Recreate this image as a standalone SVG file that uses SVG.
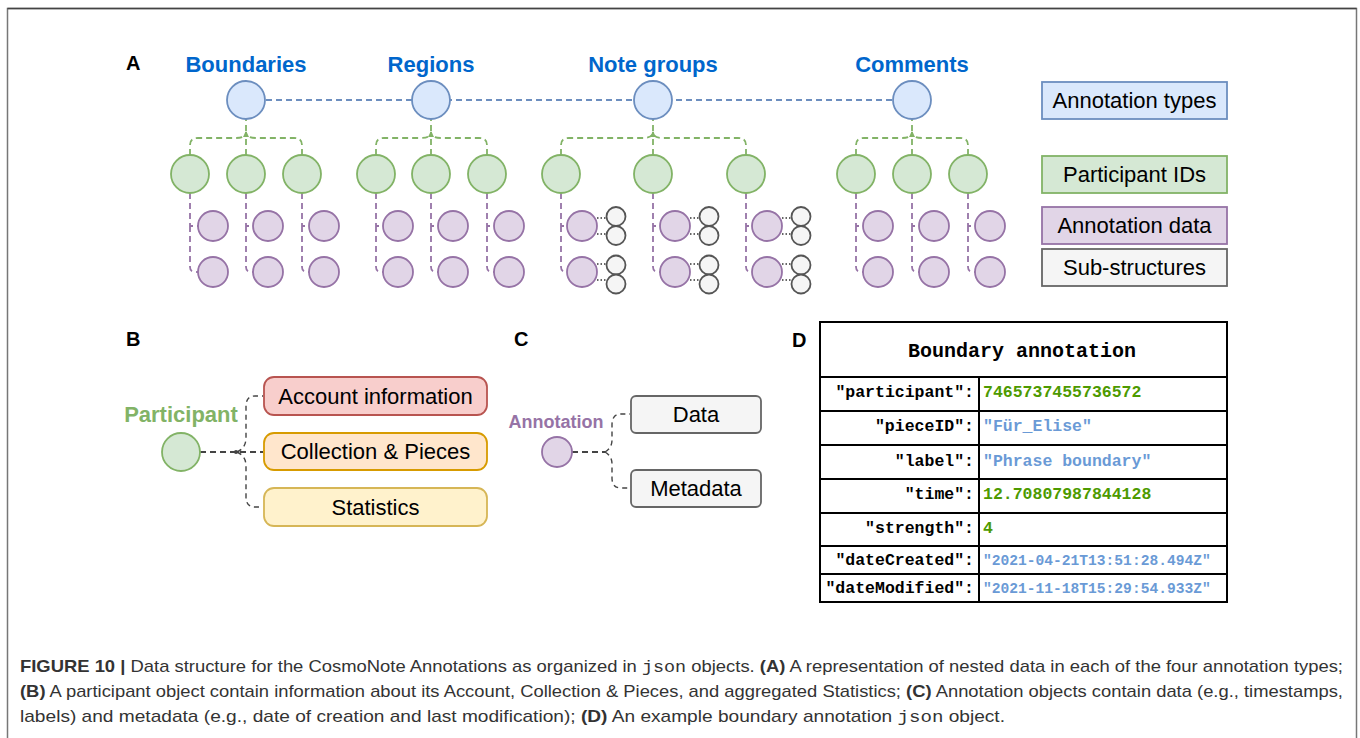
<svg xmlns="http://www.w3.org/2000/svg" width="1360" height="738" viewBox="0 0 1360 738">
<defs>
<style>
.sans{font-family:"Liberation Sans",Arial,sans-serif}
.mono{font-family:"Liberation Mono","Courier New",monospace}
.type{fill:#dae8fc;stroke:#6c8ebf;stroke-width:1.8}
.pid{fill:#d5e8d4;stroke:#82b366;stroke-width:1.8}
.ann{fill:#e1d5e7;stroke:#9673a6;stroke-width:1.8}
.sub{fill:#f5f5f5;stroke:#555;stroke-width:1.8}
.bl{fill:none;stroke:#6c8ebf;stroke-width:1.8;stroke-dasharray:6 4}
.gl{fill:none;stroke:#82b366;stroke-width:1.8;stroke-dasharray:6 4}
.pl{fill:none;stroke:#9673a6;stroke-width:1.8;stroke-dasharray:6 4}
.dl{fill:none;stroke:#333;stroke-width:1.5;stroke-dasharray:1.5 2}
.kl{fill:none;stroke:#444;stroke-width:1.8;stroke-dasharray:6 4}
.kl2{fill:none;stroke:#444;stroke-width:1.4;stroke-dasharray:5 4}
.tl{font-family:"Liberation Sans",Arial,sans-serif;font-weight:bold;font-size:22px;fill:#0066cc;text-anchor:middle}
.lbl{font-family:"Liberation Sans",Arial,sans-serif;font-size:22px;fill:#000;text-anchor:middle}
.pan{font-family:"Liberation Sans",Arial,sans-serif;font-weight:bold;font-size:20px;fill:#000}
.key{font-family:"Liberation Mono","Courier New",monospace;font-weight:bold;font-size:16.5px;fill:#000;text-anchor:end}
.vg{font-family:"Liberation Mono","Courier New",monospace;font-weight:bold;font-size:16.5px;fill:#4d9a00}
.vb{font-family:"Liberation Mono","Courier New",monospace;font-weight:bold;font-size:16.5px;fill:#6a9ad6}
.vbs{font-family:"Liberation Mono","Courier New",monospace;font-weight:bold;font-size:14.6px;fill:#6a9ad6}
.cap{font-family:"Liberation Sans",Arial,sans-serif;font-size:17px;fill:#333}
</style>
<marker id="ag" viewBox="0 0 6 6" refX="5" refY="3" markerWidth="6" markerHeight="6" orient="auto" markerUnits="userSpaceOnUse"><path d="M0,0 L6,3 L0,6 z" fill="#82b366"/></marker>
</defs>
<rect x="0" y="0" width="1360" height="738" fill="#fff"/>
<!-- outer frame -->
<path d="M7.5,738 V8.5 H1356.5 V738" fill="none" stroke="#777" stroke-width="1.5"/>
<path d="M7.5,8.5 H1356.5" fill="none" stroke="#444" stroke-width="1.5"/>

<!-- panel letters -->
<text class="pan" x="126" y="70">A</text>
<text class="pan" x="126" y="346">B</text>
<text class="pan" x="514" y="346">C</text>
<text class="pan" x="792" y="347">D</text>

<!-- connectors -->
<g id="connectors">
<path class="bl" d="M246,100 H912"/>
<!-- green: Boundaries -->
<path class="gl" d="M246,155 V132" marker-end="url(#ag)"/>
<path class="gl" d="M246,131 V119"/>
<path class="gl" d="M190,155 V145 Q190,138 198,138 H236 Q246,138 246,132"/>
<path class="gl" d="M302,155 V145 Q302,138 294,138 H256 Q246,138 246,132"/>
<!-- green: Regions -->
<path class="gl" d="M431,155 V132" marker-end="url(#ag)"/>
<path class="gl" d="M431,131 V119"/>
<path class="gl" d="M376,155 V145 Q376,138 384,138 H421 Q431,138 431,132"/>
<path class="gl" d="M487,155 V145 Q487,138 479,138 H441 Q431,138 431,132"/>
<!-- green: Note groups -->
<path class="gl" d="M653,155 V132" marker-end="url(#ag)"/>
<path class="gl" d="M653,131 V119"/>
<path class="gl" d="M561,155 V145 Q561,138 569,138 H643 Q653,138 653,132"/>
<path class="gl" d="M746,155 V145 Q746,138 738,138 H663 Q653,138 653,132"/>
<!-- green: Comments -->
<path class="gl" d="M912,155 V132" marker-end="url(#ag)"/>
<path class="gl" d="M912,131 V119"/>
<path class="gl" d="M856,155 V145 Q856,138 864,138 H902 Q912,138 912,132"/>
<path class="gl" d="M968,155 V145 Q968,138 960,138 H922 Q912,138 912,132"/>
<!-- purple -->
<path class="pl" d="M190,193 V226 H198 M190,226 V267 Q190,272 195,272 H198"/>
<path class="pl" d="M246,193 V226 H253 M246,226 V267 Q246,272 251,272 H253"/>
<path class="pl" d="M302,193 V226 H309 M302,226 V267 Q302,272 307,272 H309"/>
<path class="pl" d="M376,193 V226 H383 M376,226 V267 Q376,272 381,272 H383"/>
<path class="pl" d="M431,193 V226 H438 M431,226 V267 Q431,272 436,272 H438"/>
<path class="pl" d="M487,193 V226 H494 M487,226 V267 Q487,272 492,272 H494"/>
<path class="pl" d="M561,193 V226 H567 M561,226 V267 Q561,272 566,272 H567"/>
<path class="pl" d="M653,193 V226 H660 M653,226 V267 Q653,272 658,272 H660"/>
<path class="pl" d="M746,193 V226 H752 M746,226 V267 Q746,272 751,272 H752"/>
<path class="pl" d="M856,193 V226 H863 M856,226 V267 Q856,272 861,272 H863"/>
<path class="pl" d="M912,193 V226 H919 M912,226 V267 Q912,272 917,272 H919"/>
<path class="pl" d="M968,193 V226 H975 M968,226 V267 Q968,272 973,272 H975"/>
<!-- dotted sub-structure links -->
<path class="dl" d="M597,218 H607 M597,234 H607 M597,264 H607 M597,280 H607"/>
<path class="dl" d="M690,218 H700 M690,234 H700 M690,264 H700 M690,280 H700"/>
<path class="dl" d="M782,218 H792 M782,234 H792 M782,264 H792 M782,280 H792"/>
<!-- B -->
<path class="kl" d="M200,452 H263"/>
<path class="kl2" d="M237,452 Q246,448 246,438 V406 Q246,396 255,396 H263"/>
<path class="kl2" d="M237,452 Q246,456 246,466 V497 Q246,507 255,507 H263"/>
<circle cx="236" cy="452" r="2" fill="#444"/>
<!-- C -->
<path class="kl" d="M572,452 H605"/>
<path class="kl2" d="M605,452 Q612,448 612,440 V425 Q612,414 621,414 H630"/>
<path class="kl2" d="M605,452 Q612,456 612,464 V478 Q612,488 621,488 H630"/>
</g>

<!-- Annotation types -->
<g id="type-boundaries"><text class="tl" x="246" y="72">Boundaries</text><circle class="type" cx="246" cy="100" r="19"/></g>
<g id="type-regions"><text class="tl" x="431" y="72">Regions</text><circle class="type" cx="431" cy="100" r="19"/></g>
<g id="type-notegroups"><text class="tl" x="653" y="72">Note groups</text><circle class="type" cx="653" cy="100" r="19"/></g>
<g id="type-comments"><text class="tl" x="912" y="72">Comments</text><circle class="type" cx="912" cy="100" r="19"/></g>

<!-- Participant IDs -->
<g id="pids">
<circle class="pid" cx="190" cy="174" r="19"/><circle class="pid" cx="246" cy="174" r="19"/><circle class="pid" cx="302" cy="174" r="19"/>
<circle class="pid" cx="376" cy="174" r="19"/><circle class="pid" cx="431" cy="174" r="19"/><circle class="pid" cx="487" cy="174" r="19"/>
<circle class="pid" cx="561" cy="174" r="19"/><circle class="pid" cx="653" cy="174" r="19"/><circle class="pid" cx="746" cy="174" r="19"/>
<circle class="pid" cx="856" cy="174" r="19"/><circle class="pid" cx="912" cy="174" r="19"/><circle class="pid" cx="968" cy="174" r="19"/>
</g>

<!-- Annotation data -->
<g id="anns">
<circle class="ann" cx="213" cy="226" r="15"/><circle class="ann" cx="213" cy="272" r="15"/>
<circle class="ann" cx="268" cy="226" r="15"/><circle class="ann" cx="268" cy="272" r="15"/>
<circle class="ann" cx="324" cy="226" r="15"/><circle class="ann" cx="324" cy="272" r="15"/>
<circle class="ann" cx="398" cy="226" r="15"/><circle class="ann" cx="398" cy="272" r="15"/>
<circle class="ann" cx="453" cy="226" r="15"/><circle class="ann" cx="453" cy="272" r="15"/>
<circle class="ann" cx="509" cy="226" r="15"/><circle class="ann" cx="509" cy="272" r="15"/>
<circle class="ann" cx="582" cy="226" r="15"/><circle class="ann" cx="582" cy="272" r="15"/>
<circle class="ann" cx="675" cy="226" r="15"/><circle class="ann" cx="675" cy="272" r="15"/>
<circle class="ann" cx="767" cy="226" r="15"/><circle class="ann" cx="767" cy="272" r="15"/>
<circle class="ann" cx="878" cy="226" r="15"/><circle class="ann" cx="878" cy="272" r="15"/>
<circle class="ann" cx="934" cy="226" r="15"/><circle class="ann" cx="934" cy="272" r="15"/>
<circle class="ann" cx="990" cy="226" r="15"/><circle class="ann" cx="990" cy="272" r="15"/>
</g>

<!-- Sub-structures -->
<g id="subs">
<circle class="sub" cx="616" cy="216.5" r="9.5"/><circle class="sub" cx="616" cy="235.5" r="9.5"/>
<circle class="sub" cx="616" cy="265" r="9.5"/><circle class="sub" cx="616" cy="284" r="9.5"/>
<circle class="sub" cx="709" cy="216.5" r="9.5"/><circle class="sub" cx="709" cy="235.5" r="9.5"/>
<circle class="sub" cx="709" cy="265" r="9.5"/><circle class="sub" cx="709" cy="284" r="9.5"/>
<circle class="sub" cx="801" cy="216.5" r="9.5"/><circle class="sub" cx="801" cy="235.5" r="9.5"/>
<circle class="sub" cx="801" cy="265" r="9.5"/><circle class="sub" cx="801" cy="284" r="9.5"/>
</g>

<!-- Legend -->
<g id="legend-types"><rect x="1042" y="82" width="185" height="37" fill="#dae8fc" stroke="#6c8ebf" stroke-width="1.8"/><text class="lbl" x="1134.5" y="108">Annotation types</text></g>
<g id="legend-pids"><rect x="1042" y="156" width="185" height="37" fill="#d5e8d4" stroke="#82b366" stroke-width="1.8"/><text class="lbl" x="1134.5" y="182">Participant IDs</text></g>
<g id="legend-data"><rect x="1042" y="207" width="185" height="37" fill="#e1d5e7" stroke="#9673a6" stroke-width="1.8"/><text class="lbl" x="1134.5" y="233">Annotation data</text></g>
<g id="legend-subs"><rect x="1042" y="249" width="185" height="37" fill="#f5f5f5" stroke="#666" stroke-width="1.8"/><text class="lbl" x="1134.5" y="275">Sub-structures</text></g>

<!-- B -->
<g id="participant"><text x="181" y="422" font-family="Liberation Sans, Arial, sans-serif" font-weight="bold" font-size="22" fill="#82b366" text-anchor="middle">Participant</text><circle class="pid" cx="181" cy="452" r="19"/></g>
<g id="account"><rect x="264" y="377" width="223" height="38" rx="10" fill="#f8cecc" stroke="#b85450" stroke-width="1.8"/><text class="lbl" x="375.5" y="404">Account information</text></g>
<g id="collection"><rect x="264" y="433" width="223" height="37" rx="10" fill="#ffe6cc" stroke="#d79b00" stroke-width="1.8"/><text class="lbl" x="375.5" y="459">Collection &amp; Pieces</text></g>
<g id="statistics"><rect x="264" y="488" width="223" height="38" rx="10" fill="#fff2cc" stroke="#d6b656" stroke-width="1.8"/><text class="lbl" x="375.5" y="515">Statistics</text></g>

<!-- C -->
<g id="annotation"><text x="556" y="428" font-family="Liberation Sans, Arial, sans-serif" font-weight="bold" font-size="18" fill="#9673a6" text-anchor="middle">Annotation</text><circle class="ann" cx="557" cy="452" r="15"/></g>
<g id="data"><rect x="631" y="396" width="130" height="37" rx="5" fill="#f5f5f5" stroke="#666" stroke-width="1.8"/><text class="lbl" x="696" y="422">Data</text></g>
<g id="metadata"><rect x="631" y="470" width="130" height="37" rx="5" fill="#f5f5f5" stroke="#666" stroke-width="1.8"/><text class="lbl" x="696" y="496">Metadata</text></g>

<!-- D -->
<g id="table">
<rect x="820" y="322" width="407" height="280" fill="#fff" stroke="#000" stroke-width="2"/>
<path d="M820,377 H1227 M820,411 H1227 M820,445 H1227 M820,479 H1227 M820,513 H1227 M820,546 H1227 M820,574 H1227 M979,377 V602" stroke="#000" stroke-width="2" fill="none"/>
<text x="1022" y="357" font-family="Liberation Mono, Courier New, monospace" font-weight="bold" font-size="20" text-anchor="middle">Boundary annotation</text>
<text class="key" x="974" y="397">"participant":</text>
<text class="key" x="974" y="431">"pieceID":</text>
<text class="key" x="974" y="466">"label":</text>
<text class="key" x="974" y="499">"time":</text>
<text class="key" x="974" y="533">"strength":</text>
<text class="key" x="974" y="565">"dateCreated":</text>
<text class="key" x="974" y="593">"dateModified":</text>
<text class="vg" x="983" y="397">7465737455736572</text>
<text class="vb" x="983" y="431">"Für_Elise"</text>
<text class="vb" x="983" y="466">"Phrase boundary"</text>
<text class="vg" x="983" y="499">12.70807987844128</text>
<text class="vg" x="983" y="533">4</text>
<text class="vbs" x="983" y="565">"2021-04-21T13:51:28.494Z"</text>
<text class="vbs" x="983" y="593">"2021-11-18T15:29:54.933Z"</text>
</g>

<!-- caption -->
<g id="caption">
<text class="cap" x="20" y="672" textLength="1323" lengthAdjust="spacingAndGlyphs"><tspan font-weight="bold">FIGURE 10 |</tspan> Data structure for the CosmoNote Annotations as organized in <tspan class="mono">json</tspan> objects. <tspan font-weight="bold">(A)</tspan> A representation of nested data in each of the four annotation types;</text>
<text class="cap" x="20" y="697" textLength="1323" lengthAdjust="spacingAndGlyphs"><tspan font-weight="bold">(B)</tspan> A participant object contain information about its Account, Collection &amp; Pieces, and aggregated Statistics; <tspan font-weight="bold">(C)</tspan> Annotation objects contain data (e.g., timestamps,</text>
<text class="cap" x="20" y="722" textLength="985" lengthAdjust="spacingAndGlyphs">labels) and metadata (e.g., date of creation and last modification); <tspan font-weight="bold">(D)</tspan> An example boundary annotation <tspan class="mono">json</tspan> object.</text>
</g>
</svg>
